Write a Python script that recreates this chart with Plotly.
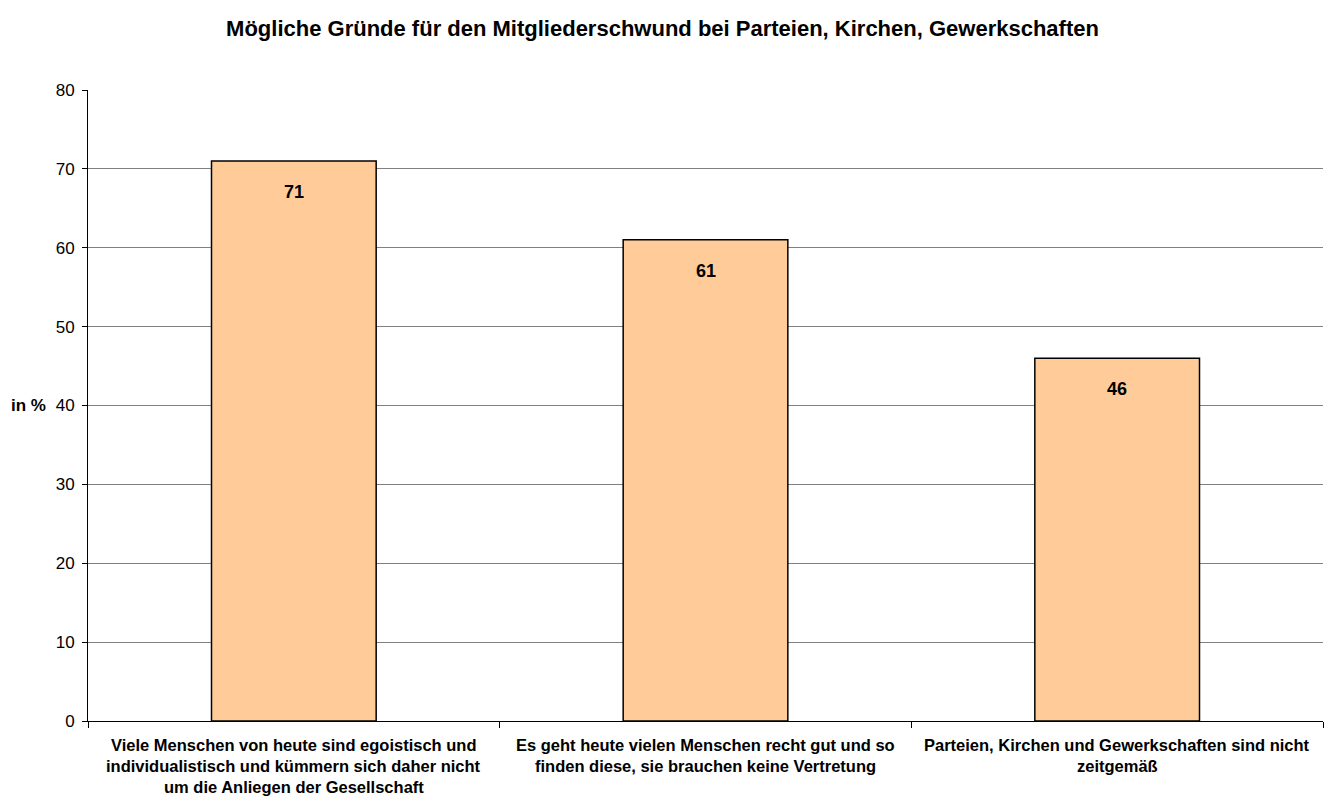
import plotly.graph_objects as go

# Survey data: share of respondents agreeing with each reason (in %)
categories = [
    ["Viele Menschen von heute sind egoistisch und",
     "individualistisch und kümmern sich daher nicht",
     "um die Anliegen der Gesellschaft"],
    ["Es geht heute vielen Menschen recht gut und so",
     "finden diese, sie brauchen keine Vertretung"],
    ["Parteien, Kirchen und Gewerkschaften sind nicht",
     "zeitgemäß"],
]
values = [71, 61, 46]
y_ticks = [0, 10, 20, 30, 40, 50, 60, 70, 80]

FONT = "Liberation Sans, Arial, sans-serif"
x_pos = list(range(len(values)))

fig = go.Figure()
fig.add_trace(go.Bar(
    x=x_pos,
    y=values,
    width=0.4,
    marker=dict(color="#FFCC99", line=dict(color="#000000", width=1.5)),
    hoverinfo="skip",
))

# value labels inside the top of each bar
for xi, v in zip(x_pos, values):
    fig.add_annotation(x=xi, y=v, text=f"<b>{v}</b>", showarrow=False,
                       yanchor="middle", yshift=-31,
                       font=dict(family=FONT, size=18, color="#000000"))

# multi-line category labels below the axis
for xi, lines in zip(x_pos, categories):
    for k, line in enumerate(lines):
        fig.add_annotation(x=xi, y=0, yref="y", text=f"<b>{line}</b>",
                           showarrow=False, yanchor="middle",
                           yshift=-24 - 21 * k,
                           font=dict(family=FONT, size=16.5, color="#000000"))

# y axis caption, horizontal
fig.add_annotation(x=0, xref="paper", y=40, yref="y", text="<b>in %</b>",
                   showarrow=False, xanchor="right", xshift=-40,
                   font=dict(family=FONT, size=17, color="#000000"))

fig.update_layout(
    width=1325, height=798,
    margin=dict(l=88, r=2, t=90, b=77),
    paper_bgcolor="#FFFFFF", plot_bgcolor="#FFFFFF",
    showlegend=False,
    title=dict(text="<b>Mögliche Gründe für den Mitgliederschwund bei Parteien, Kirchen, Gewerkschaften</b>",
               x=0.5, xanchor="center", y=1 - 28 / 798, yanchor="middle",
               font=dict(family=FONT, size=22, color="#000000")),
    xaxis=dict(range=[-0.5, 2.5], tickmode="array",
               tickvals=[-0.5, 0.5, 1.5, 2.5], showticklabels=False,
               ticks="outside", ticklen=6, tickcolor="#000000",
               showline=True, linecolor="#000000", linewidth=1,
               showgrid=False, zeroline=False, fixedrange=True),
    yaxis=dict(range=[0, 80], tickmode="array", tickvals=y_ticks,
               ticks="outside", ticklen=5, tickcolor="#000000",
               ticklabelstandoff=4,
               showline=True, linecolor="#000000", linewidth=1,
               showgrid=True, gridcolor="#808080", gridwidth=1,
               zeroline=False,
               tickfont=dict(family=FONT, size=17, color="#000000")),
)

fig.write_html("out.html")
